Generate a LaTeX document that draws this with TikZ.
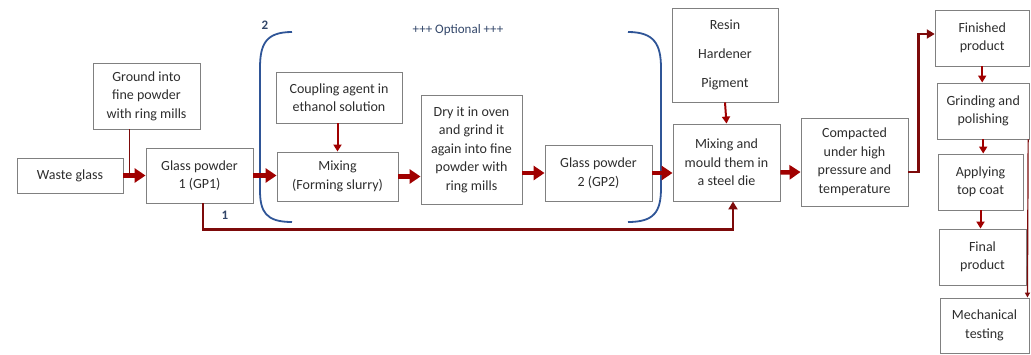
\documentclass[tikz,border=0pt]{standalone}
\usepackage{fontspec}
\setmainfont{Carlito}
\usepackage{xcolor}
\usepackage{tikz}
\usetikzlibrary{arrows.meta}
\definecolor{boxgray}{RGB}{128,128,128}
\definecolor{flowred}{RGB}{160,0,0}
\definecolor{darkred}{RGB}{125,10,10}
\definecolor{brblue}{RGB}{47,85,151}
\definecolor{lblblue}{RGB}{50,70,105}
\definecolor{txt}{RGB}{45,45,45}

\begin{document}
\begin{tikzpicture}[x=1pt,y=-1pt]
\tikzset{bx/.style={draw=boxgray, line width=.9pt, align=center, text=txt, font=\fontsize{14}{18.5}\selectfont, inner sep=2pt},
fl/.style={draw=flowred, line width=4.5pt, -{Triangle[length=11pt,width=14pt]}},
fs/.style={draw=flowred, line width=2pt, -{Triangle[length=7pt,width=8pt]}},
fm/.style={draw=darkred, line width=2.6pt, -{Triangle[length=8pt,width=9pt]}},
tl/.style={draw=darkred, line width=1.2pt},
br/.style={draw=brblue, line width=1.8pt},
lb/.style={text=lblblue, font=\fontsize{13}{15}\selectfont, inner sep=1pt}};
\useasboundingbox (0,0) rectangle (1031,354);
\node [bx, minimum width=106pt, minimum height=35pt] (waste) at (70,175.5) {Waste glass};
\node [bx, minimum width=107pt, minimum height=66pt] (ground) at (146.5,96) {Ground into\\fine powder\\with ring mills};
\node [bx, minimum width=107pt, minimum height=55pt] (gp1) at (199.5,175.5) {Glass powder\\1 (GP1)};
\node [bx, minimum width=126pt, minimum height=51pt] (coup) at (339,97.5) {Coupling agent in\\ethanol solution};
\node [bx, minimum width=121pt, minimum height=49pt] (mix) at (337.5,176.5) {Mixing\\(Forming slurry)};
\node [bx, minimum width=101pt, minimum height=109pt] (dry) at (471.5,149.5) {Dry it in oven\\and grind it\\again into fine\\powder with\\ring mills};
\node [bx, minimum width=107pt, minimum height=56pt] (gp2) at (598.5,173) {Glass powder\\2 (GP2)};
\node [bx, minimum width=106pt, minimum height=94pt] (resin) at (725,55) {Resin\\[10.5pt]Hardener\\[10.5pt]Pigment};
\node [bx, minimum width=107pt, minimum height=77pt] (mould) at (726.5,162.5) {Mixing and\\mould them in\\a steel die};
\node [bx, minimum width=107pt, minimum height=88pt] (comp) at (854.5,162) {Compacted\\under high\\pressure and\\temperature};
\node [bx, minimum width=94pt, minimum height=56pt] (fin) at (982.2,38) {Finished\\product};
\node [bx, minimum width=92pt, minimum height=56pt] (grind) at (983.2,111) {Grinding and\\polishing};
\node [bx, minimum width=85pt, minimum height=56pt] (apply) at (980.5,182) {Applying\\top coat};
\node [bx, minimum width=87pt, minimum height=56pt] (final) at (982.5,257) {Final\\product};
\node [bx, minimum width=89pt, minimum height=55pt] (mech) at (984.5,325.5) {Mechanical\\testing};
% optional loop
\draw [br] (292,32) .. controls (266,32) and (260,44) .. (260,68) -- (260,190) .. controls (260,212) and (266,222) .. (292,222);
\draw [br] (628,32) .. controls (654,32) and (661,44) .. (661,68) -- (661,188) .. controls (661,212) and (654,222) .. (628,222);
\node [lb, font=\fontsize{13}{15}\bfseries] (n2) at (265,25) {2};
\node [lb, font=\fontsize{13}{15}\bfseries] (n1) at (225,215) {1};
\node [lb] (opt) at (458,30) {+++ Optional +++};
% flow
\draw [fl] (waste.east) -- (gp1.west);
\draw [tl] ([xshift=-17pt]ground.south) -- ([xshift=-17pt]ground.south |- waste.east);
\draw [fl] (gp1.east) -- (gp1.east -| mix.west);
\draw [fs] (coup.south -| mix.north) -- (mix.north);
\draw [fl] (mix.east) -- (mix.east -| dry.west);
\draw [fl] (gp2.west -| dry.east) -- (gp2.west);
\draw [fl] (gp2.east) -- (gp2.east -| mould.west);
\draw [fs] (resin.south) -- (mould.north);
\draw [fl] ([yshift=-10pt]mould.east) -- ([yshift=-10pt]comp.west);
\draw [fm] ([yshift=-10pt]comp.east) -- ++(10,0) |- ([yshift=4pt]fin.west);
\draw [fs] (fin.south) -- (fin.south |- grind.north);
\draw [fs] (grind.south) -- (grind.south |- apply.north);
\draw [fs] (apply.south) -- (apply.south |- final.north);
\draw [tl, -{Triangle[length=5pt,width=5pt]}] ([xshift=-1.5pt]grind.south east) -- ([xshift=-2pt]mech.north east);
\draw [fm] ([xshift=3.5pt]gp1.south) -- ++(0,26) -| ([xshift=6.5pt]mould.south);
\end{tikzpicture}
\end{document}
